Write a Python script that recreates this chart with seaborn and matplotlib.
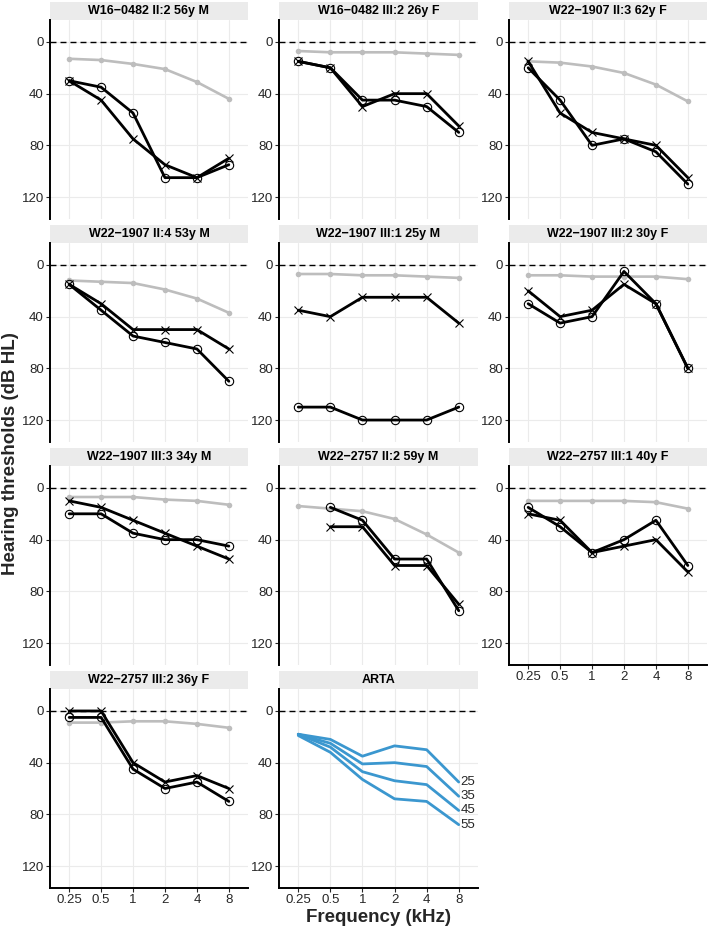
import numpy as np
import pandas as pd
import matplotlib
matplotlib.use("Agg")
import matplotlib.pyplot as plt
import seaborn as sns
from matplotlib.patches import Rectangle
from matplotlib.ticker import NullLocator

# audiogram data (dB HL)
freqs = [0.25, 0.5, 1, 2, 4, 8]
freq_labels = ["0.25", "0.5", "1", "2", "4", "8"]

titles = [
    "W16\u22120482 II:2 56y M",
    "W16\u22120482 III:2 26y F",
    "W22\u22121907 II:3 62y F",
    "W22\u22121907 II:4 53y M",
    "W22\u22121907 III:1 25y M",
    "W22\u22121907 III:2 30y F",
    "W22\u22121907 III:3 34y M",
    "W22\u22122757 II:2 59y M",
    "W22\u22122757 III:1 40y F",
    "W22\u22122757 III:2 36y F",
]

# age/sex reference curve (grey)
age_ref = [
    [13, 14, 17, 21, 31, 44],
    [7, 8, 8, 8, 9, 10],
    [15, 16, 19, 24, 33, 46],
    [12, 13, 14, 19, 26, 37],
    [7, 7, 8, 8, 9, 10],
    [8, 8, 9, 9, 9, 11],
    [7, 7, 7, 9, 10, 13],
    [14, 16, 18, 24, 36, 50],
    [10, 10, 10, 10, 11, 16],
    [9, 9, 8, 8, 10, 13],
]

# right ear (circles)
ear_o = [
    [30, 35, 55, 105, 105, 95],
    [15, 20, 45, 45, 50, 70],
    [20, 45, 80, 75, 85, 110],
    [15, 35, 55, 60, 65, 90],
    [110, 110, 120, 120, 120, 110],
    [30, 45, 40, 5, 30, 80],
    [20, 20, 35, 40, 40, 45],
    [np.nan, 15, 25, 55, 55, 95],
    [15, 30, 50, 40, 25, 60],
    [5, 5, 45, 60, 55, 70],
]

# left ear (crosses)
ear_x = [
    [30, 45, 75, 95, 105, 90],
    [15, 20, 50, 40, 40, 65],
    [15, 55, 70, 75, 80, 105],
    [15, 30, 50, 50, 50, 65],
    [35, 40, 25, 25, 25, 45],
    [20, 40, 35, 15, 30, 80],
    [10, 15, 25, 35, 45, 55],
    [np.nan, 30, 30, 60, 60, 90],
    [20, 25, 50, 45, 40, 65],
    [0, 0, 40, 55, 50, 60],
]

# ARTA age curves
arta_ages = [25, 35, 45, 55]
arta_db = [
    [18, 22, 35, 27, 30, 55],
    [18, 25, 41, 40, 43, 66],
    [18, 28, 47, 54, 57, 77],
    [19, 32, 53, 68, 70, 88],
]

# long table
rows = []
for t, g, o, x in zip(titles, age_ref, ear_o, ear_x):
    for f, gv, ov, xv in zip(freqs, g, o, x):
        rows.append(dict(panel=t, freq=f, series="ref", db=gv))
        rows.append(dict(panel=t, freq=f, series="O", db=ov))
        rows.append(dict(panel=t, freq=f, series="X", db=xv))
for age, vals in zip(arta_ages, arta_db):
    for f, v in zip(freqs, vals):
        rows.append(dict(panel="ARTA", freq=f, series=str(age), db=v))
df = pd.DataFrame(rows).dropna()

sns.set_style("white")
plt.rcParams["font.family"] = ["Liberation Sans", "DejaVu Sans"]

W, H = 708, 932
fig = plt.figure(figsize=(W / 100, H / 100), dpi=100)

col_x = [(50, 248), (279, 478), (509, 707)]
row_y = [20, 243, 466, 689]
ax_h = 199
strip_h = 18
tick_col = "#262626"
blue = "#3b97cf"

panels = titles + ["ARTA"]
for i, name in enumerate(panels):
    r, c = divmod(i, 3)
    x0, x1 = col_x[c]
    y0 = row_y[r]
    ax = fig.add_axes([x0 / W, 1 - (y0 + ax_h) / H, (x1 - x0) / W, ax_h / H])
    sub = df[df.panel == name]

    ax.axhline(0, color="black", lw=1.0, ls=(0, (4.3, 2.9)), zorder=1)

    if name == "ARTA":
        for age in arta_ages:
            s = sub[sub.series == str(age)]
            sns.lineplot(data=s, x="freq", y="db", ax=ax, color=blue, lw=2.0,
                         estimator=None, sort=True, zorder=3)
            last = s[s.freq == freqs[-1]].db.iloc[0]
            ax.text(freqs[-1] * 2 ** 0.05, last, str(age), fontsize=9.5,
                    color=tick_col, ha="left", va="center", clip_on=False)
    else:
        s = sub[sub.series == "ref"]
        sns.lineplot(data=s, x="freq", y="db", ax=ax, color="#bdbdbd", lw=1.9,
                     marker="o", markersize=4, markeredgewidth=0,
                     estimator=None, sort=True, zorder=2)
        s = sub[sub.series == "O"]
        sns.lineplot(data=s, x="freq", y="db", ax=ax, color="black", lw=2.0,
                     marker="o", markersize=6, markerfacecolor="none",
                     markeredgecolor="black", markeredgewidth=0.8,
                     estimator=None, sort=True, zorder=3)
        s = sub[sub.series == "X"]
        sns.lineplot(data=s, x="freq", y="db", ax=ax, color="black", lw=2.0,
                     marker="x", markersize=6, markeredgecolor="black",
                     markeredgewidth=0.8,
                     estimator=None, sort=True, zorder=3)

    ax.set_xscale("log", base=2)
    ax.set_xlim(0.25 * 2 ** -0.6, 8 * 2 ** 0.6)
    ax.set_ylim(137, -17)
    ax.set_xticks(freqs)
    ax.set_xticklabels(freq_labels)
    ax.xaxis.set_minor_locator(NullLocator())
    ax.set_yticks([0, 40, 80, 120])
    ax.grid(True, color="#ebebeb", lw=0.8)
    ax.set_axisbelow(True)
    ax.set_xlabel("")
    ax.set_ylabel("")

    for sp in ["top", "right"]:
        ax.spines[sp].set_visible(False)
    ax.spines["left"].set_color("black")
    ax.spines["left"].set_linewidth(1.4)
    bottom = i >= len(panels) - 3
    ax.spines["bottom"].set_visible(bottom)
    ax.spines["bottom"].set_color("black")
    ax.spines["bottom"].set_linewidth(1.4)

    ax.tick_params(axis="y", left=True, length=3, width=0.8, color=tick_col,
                   labelsize=9.5, labelcolor=tick_col, pad=1.5)
    ax.tick_params(axis="x", bottom=bottom, labelbottom=bottom, length=3,
                   width=0.8, color=tick_col, labelsize=9.5,
                   labelcolor=tick_col, pad=1.5)

    # facet strip
    ax.add_patch(Rectangle((0, 1), 1, strip_h / ax_h, transform=ax.transAxes,
                           facecolor="#ebebeb", edgecolor="none", clip_on=False))
    ax.text(0.5, 1 + strip_h / ax_h / 2, name, transform=ax.transAxes,
            ha="center", va="center", fontsize=9, fontweight="bold",
            color="black")

fig.text(11 / W, 1 - 454 / H, "Hearing thresholds (dB HL)", rotation=90,
         ha="center", va="center", fontsize=13.5, fontweight="bold")
fig.text(378 / W, 1 - 918 / H, "Frequency (kHz)", ha="center", va="center",
         fontsize=13.5, fontweight="bold")

fig.savefig("out.png", dpi=100, facecolor="white")
